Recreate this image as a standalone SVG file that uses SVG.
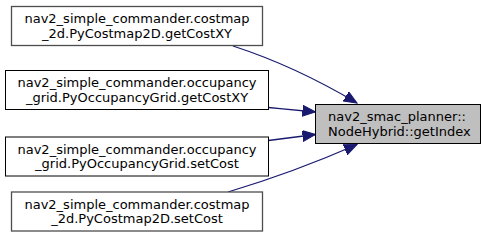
<svg xmlns="http://www.w3.org/2000/svg" width="485" height="248" viewBox="0 0 485 248">
<style>
.box{fill:#ffffff;stroke:#000000;stroke-width:1}
.grey{stroke:#4d4d4d;stroke-width:1.3}
.target{fill:#bfbfbf;stroke:#000000;stroke-width:1}
text{font-family:"DejaVu Sans",sans-serif;font-size:13px;fill:#000000}
.c{text-anchor:middle}
.edge{fill:none;stroke:#191970;stroke-width:1.3}
</style>
<defs>
<marker id="arr" markerUnits="userSpaceOnUse" markerWidth="14" markerHeight="12" refX="13" refY="5.5" orient="auto">
<polygon points="0,0 13,5.5 0,11" fill="#191970" stroke="#191970" stroke-width="1"/>
</marker>
</defs>
<rect width="485" height="248" fill="#ffffff"/>
<g id="edges">
<path class="edge" d="M233,46 C270,58 315,78 357,103" marker-end="url(#arr)"/>
<path class="edge" d="M268.5,107.5 C284,109 299,110.5 315.5,112" marker-end="url(#arr)"/>
<path class="edge" d="M268.5,140.5 C284,138.5 299,136.5 315.5,134.5" marker-end="url(#arr)"/>
<path class="edge" d="M228,192 C268,180 315,163 357,144.5" marker-end="url(#arr)"/>
</g>
<g id="node_target">
<rect class="target" x="315.5" y="104.5" width="165" height="39"/>
<text x="328" y="121.3">nav2_smac_planner::</text>
<text x="328" y="135.6">NodeHybrid::getIndex</text>
</g>
<g id="node1">
<rect class="box grey" x="11.5" y="6.5" width="251" height="39"/>
<text class="c" x="137" y="23.3">nav2_simple_commander.costmap</text>
<text class="c" x="137" y="37.7">_2d.PyCostmap2D.getCostXY</text>
</g>
<g id="node2">
<rect class="box" x="5.5" y="70.5" width="263" height="39"/>
<text class="c" x="137" y="87.3">nav2_simple_commander.occupancy</text>
<text class="c" x="137" y="101.7">_grid.PyOccupancyGrid.getCostXY</text>
</g>
<g id="node3">
<rect class="box" x="5.5" y="137" width="263" height="39"/>
<text class="c" x="137" y="153.8">nav2_simple_commander.occupancy</text>
<text class="c" x="137" y="168.2">_grid.PyOccupancyGrid.setCost</text>
</g>
<g id="node4">
<rect class="box grey" x="11.5" y="192" width="251" height="39"/>
<text class="c" x="137" y="208.8">nav2_simple_commander.costmap</text>
<text class="c" x="137" y="223.2">_2d.PyCostmap2D.setCost</text>
</g>
</svg>
